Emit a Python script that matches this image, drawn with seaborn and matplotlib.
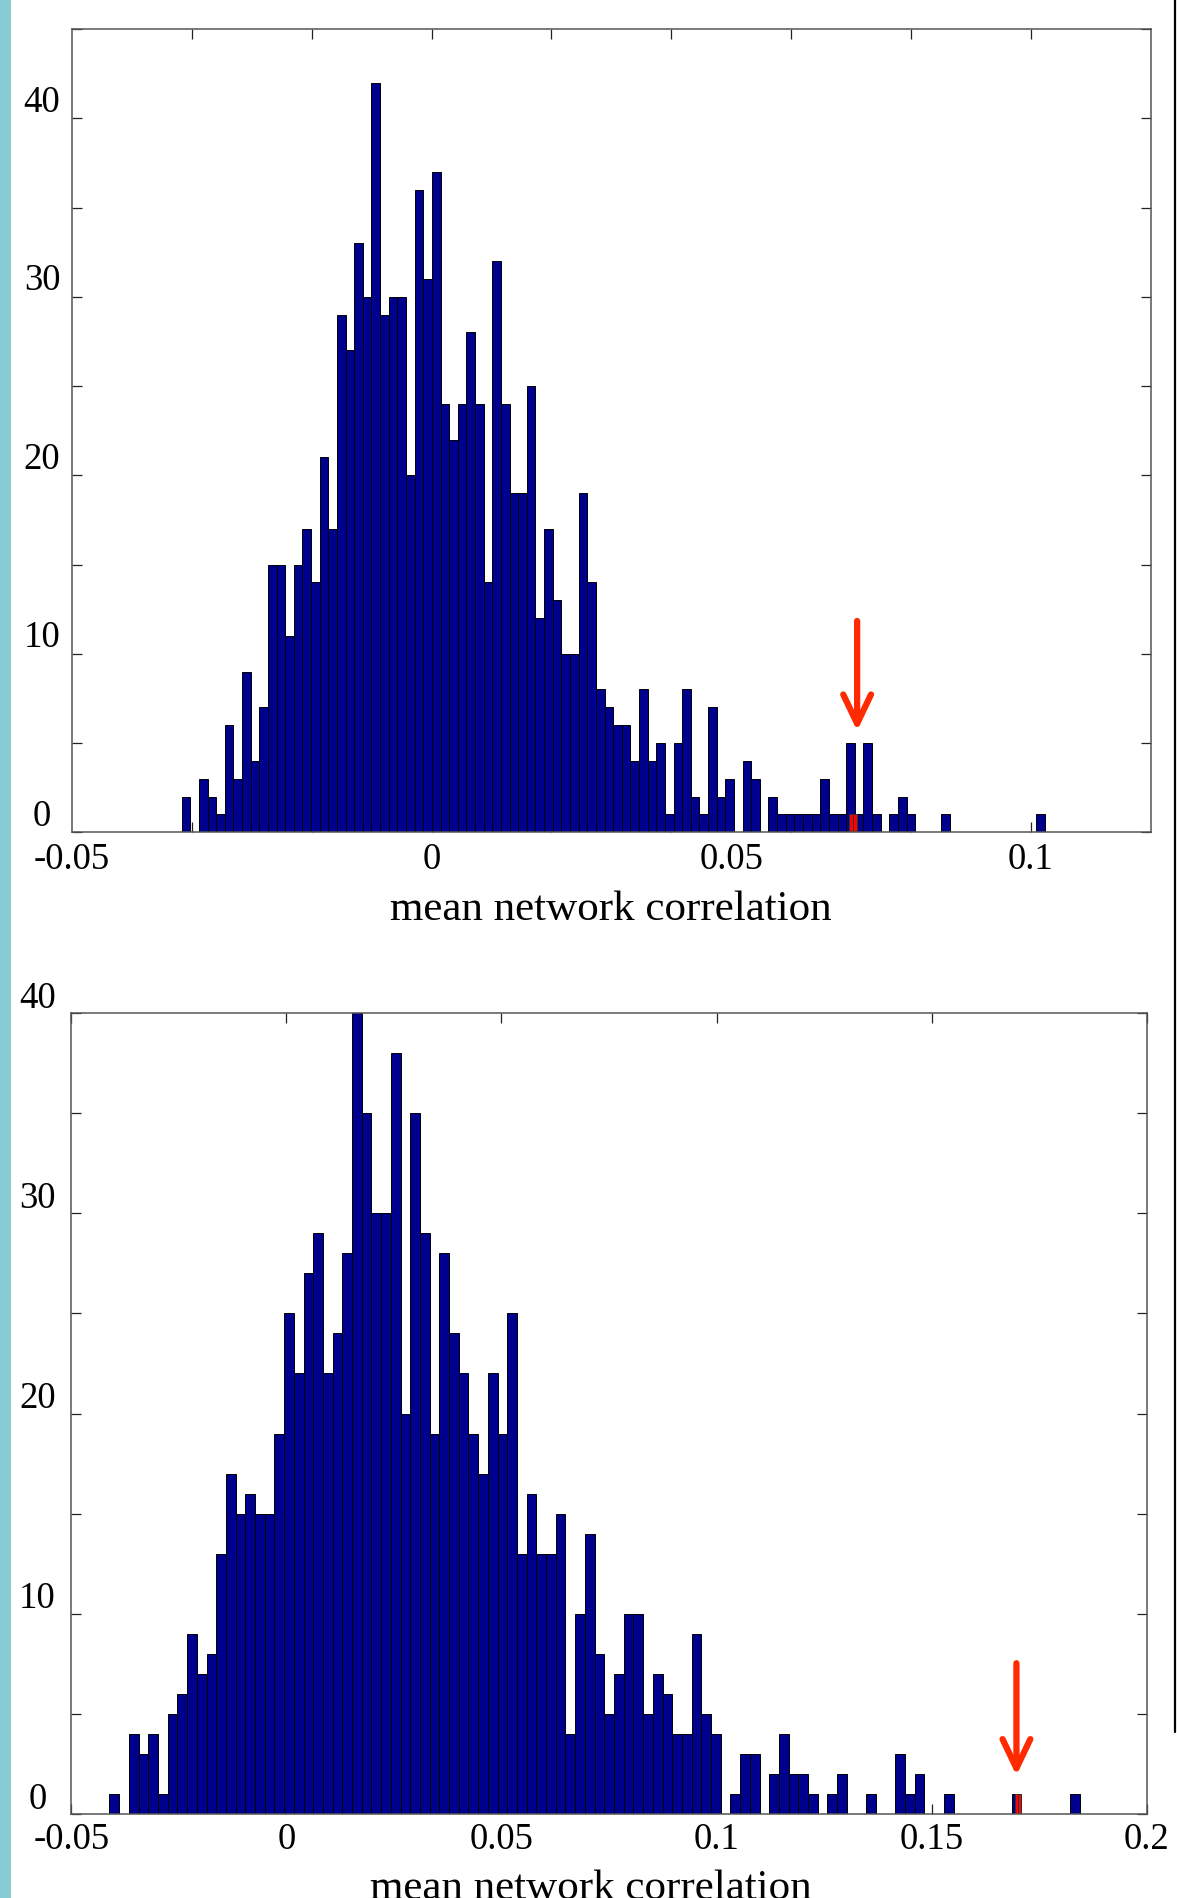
import numpy as np
import pandas as pd
import matplotlib
matplotlib.use("Agg")
import matplotlib.pyplot as plt
import matplotlib.transforms as mtransforms
from matplotlib.patches import Rectangle
from matplotlib.lines import Line2D
import seaborn as sns

# ---------------- data ----------------
# top panel: 100-bin histogram
top_bin_start = -0.04171
top_bin_width = 0.001440
top_counts = [2, 0, 3, 2, 1, 6, 3, 9, 4, 7,
              15, 15, 11, 15, 17, 14, 21, 17, 29, 27,
              33, 30, 42, 29, 30, 30, 20, 36, 31, 37,
              24, 22, 24, 28, 24, 14, 32, 24, 19, 19,
              25, 12, 17, 13, 10, 10, 19, 14, 8, 7,
              6, 6, 4, 8, 4, 5, 1, 5, 8, 2,
              1, 7, 2, 3, 0, 4, 3, 0, 2, 1,
              1, 1, 1, 1, 3, 1, 1, 5, 1, 5,
              1, 0, 1, 2, 1, 0, 0, 0, 1, 0,
              0, 0, 0, 0, 0, 0, 0, 0, 0, 1]
top_red_edges = [0.06966, 0.07033, 0.07098]
top_red_counts = [1, 1]
top_arrow_x = 0.0710
top_arrow_from = 11.84
top_arrow_to = 5.68
top_xtick_marks = [-0.04, -0.02, 0.0, 0.02, 0.04, 0.06, 0.08, 0.10]
top_xlabel_pos = [-0.06, 0.0, 0.05, 0.1]
top_xlabel_txt = ["-0.05", "0", "0.05", "0.1"]
top_yticks = [0, 5, 10, 15, 20, 25, 30, 35, 40, 45]
top_ylabels = ["0", "", "10", "", "20", "", "30", "", "40", ""]

# bottom panel: 100-bin histogram
bot_bin_start = -0.04110
bot_bin_width = 0.002255
bot_counts = [1, 0, 4, 3, 4, 1, 5, 6, 9, 7,
              8, 13, 17, 15, 16, 15, 15, 19, 25, 22,
              27, 29, 22, 24, 28, 40, 35, 30, 30, 38,
              20, 35, 29, 19, 28, 24, 22, 19, 17, 22,
              19, 25, 13, 16, 13, 13, 15, 4, 10, 14,
              8, 5, 7, 10, 10, 5, 7, 6, 4, 4,
              9, 5, 4, 0, 1, 3, 3, 0, 2, 4,
              2, 2, 1, 0, 1, 2, 0, 0, 1, 0,
              0, 3, 1, 2, 0, 0, 1, 0, 0, 0,
              0, 0, 0, 1, 0, 0, 0, 0, 0, 1]
bot_red_edges = [0.16930, 0.17000, 0.17087]
bot_red_counts = [1, 1]
bot_arrow_x = 0.1697
bot_arrow_from = 7.53
bot_arrow_to = 1.92
bot_xticks = [-0.05, 0.0, 0.05, 0.10, 0.15, 0.20]
bot_xlabels = ["-0.05", "0", "0.05", "0.1", "0.15", "0.2"]
bot_yticks = [0, 5, 10, 15, 20, 25, 30, 35, 40]
bot_ylabels = ["0", "", "10", "", "20", "", "30", "", "40"]

xlabel_text = "mean network correlation"

# ---------------- style ----------------
sns.set_style("white")
plt.rcParams["font.family"] = ["Liberation Serif", "DejaVu Serif"]
plt.rcParams["text.color"] = "black"
plt.rcParams["axes.labelcolor"] = "black"
plt.rcParams["xtick.color"] = "black"
plt.rcParams["ytick.color"] = "black"

NAVY = "#00008F"
RED = "#FF0000"
ARROW = "#FF2A00"
SPINE = "#555555"
W, H = 1177, 1899
DPI = 100

fig = plt.figure(figsize=(W / DPI, H / DPI), dpi=DPI)
fig.patch.set_facecolor("white")

# left cyan strip and right thin black line (slide decoration)
fig.patches.append(Rectangle((0, 0), 10.7 / W, 1, transform=fig.transFigure,
                             facecolor="#86CBD3", edgecolor="none", zorder=0))
fig.lines.append(Line2D([1175 / W, 1175 / W], [1, 1 - 1733 / H],
                        transform=fig.transFigure, color="black", lw=1.6))

ax1 = fig.add_axes([72 / W, 1 - 833.3 / H, (1150.8 - 72) / W, (833.3 - 30) / H])
ax2 = fig.add_axes([71.2 / W, 1 - 1815 / H, (1146.8 - 71.2) / W, (1815 - 1014) / H])


def draw_hist(ax, start, width, counts, red_edges, red_counts):
    n = len(counts)
    edges = [float(e) for e in start + width * np.arange(n + 1)]
    df = pd.DataFrame({"x": [0.5 * (edges[i] + edges[i + 1]) for i in range(n)],
                       "w": counts})
    sns.histplot(data=df, x="x", weights="w", bins=edges, ax=ax, color=NAVY,
                 edgecolor="black", linewidth=0.7, alpha=1.0, stat="count")
    rdf = pd.DataFrame({"x": [0.5 * (red_edges[i] + red_edges[i + 1])
                              for i in range(len(red_counts))],
                        "w": red_counts})
    sns.histplot(data=rdf, x="x", weights="w", bins=list(red_edges), ax=ax,
                 color=RED, edgecolor="#333333", linewidth=0.7, alpha=1.0,
                 stat="count")


def style_axes(ax, ylim, yticks, ylabels, ylab_pad, ylab_shift_px):
    ax.set_ylim(*ylim)
    ax.set_ylabel("")
    ax.set_xlabel("")
    for s in ax.spines.values():
        s.set_visible(True)
        s.set_color(SPINE)
        s.set_linewidth(1.1)
    ax.set_yticks(yticks, ylabels)
    ax.tick_params(axis="y", which="major", direction="in", left=True,
                   right=True, length=7.5, width=0.9, color="#222222",
                   labelcolor="black", labelsize=26.5, pad=ylab_pad)
    for lab in ax.get_yticklabels():
        lab.set_horizontalalignment("center")
        lab.set_transform(lab.get_transform() + mtransforms.ScaledTranslation(
            0, ylab_shift_px / DPI, fig.dpi_scale_trans))
    ax.set_axisbelow(True)


ARROWPROPS = dict(arrowstyle="->,head_length=1.05,head_width=0.5",
                  color=ARROW, lw=4.5, mutation_scale=20,
                  shrinkA=0, shrinkB=0, capstyle="round", joinstyle="round")

# ---------------- top panel ----------------
draw_hist(ax1, top_bin_start, top_bin_width, top_counts, top_red_edges, top_red_counts)
ax1.set_xlim(-0.06, 0.12)
style_axes(ax1, (0, 45), top_yticks, top_ylabels, 21.6, 21)
ax1.xaxis.remove_overlapping_locs = False
ax1.set_xticks(top_xtick_marks, [""] * len(top_xtick_marks))
ax1.set_xticks(top_xlabel_pos, top_xlabel_txt, minor=True)
ax1.tick_params(axis="x", which="major", direction="in", bottom=True, top=True,
                length=7.5, width=0.9, color="#222222")
ax1.tick_params(axis="x", which="minor", length=0, labelsize=26.5, pad=6.5,
                labelcolor="black")
ax1.annotate("", xy=(top_arrow_x, top_arrow_to), xytext=(top_arrow_x, top_arrow_from),
             arrowprops=ARROWPROPS)
ax1.set_xlabel(xlabel_text, fontsize=31, color="black")
ax1.xaxis.label.set_verticalalignment("baseline")
ax1.xaxis.set_label_coords(0.499, -0.1085)

# ---------------- bottom panel ----------------
draw_hist(ax2, bot_bin_start, bot_bin_width, bot_counts, bot_red_edges, bot_red_counts)
ax2.set_xlim(-0.05, 0.2)
style_axes(ax2, (0, 40), bot_yticks, bot_ylabels, 24.3, 19.5)
ax2.set_xticks(bot_xticks, bot_xlabels)
ax2.tick_params(axis="x", which="major", direction="in", bottom=True, top=True,
                length=7.5, width=0.9, color="#222222", labelsize=26.5, pad=5.5,
                labelcolor="black")
ax2.annotate("", xy=(bot_arrow_x, bot_arrow_to), xytext=(bot_arrow_x, bot_arrow_from),
             arrowprops=ARROWPROPS)
ax2.set_xlabel(xlabel_text, fontsize=31, color="black")
ax2.xaxis.label.set_verticalalignment("baseline")
ax2.xaxis.set_label_coords(0.483, -0.1045)

fig.savefig("out.png", dpi=DPI, facecolor="white")
